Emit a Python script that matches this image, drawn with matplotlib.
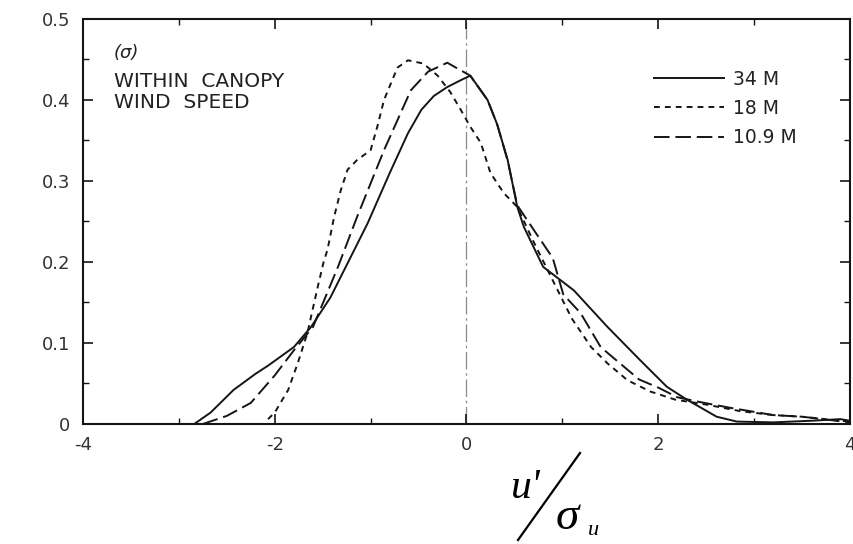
import matplotlib.pyplot as plt
from matplotlib.lines import Line2D
from matplotlib.ticker import MultipleLocator

plt.rcParams['axes.unicode_minus'] = False

# 34 M height (solid)
x_34 = [-2.84, -2.67, -2.43, -2.2, -2.07, -1.8, -1.62, -1.42, -1.03, -0.8, -0.61, -0.47,
        -0.34, -0.2, -0.05, 0.04, 0.22, 0.32, 0.43, 0.53, 0.6, 0.8, 1.12, 1.47, 1.81, 2.09,
        2.3, 2.61, 2.82, 3.2, 3.6, 3.9, 4.0]
y_34 = [0.0, 0.014, 0.042, 0.062, 0.072, 0.095, 0.12, 0.156, 0.248, 0.31, 0.359, 0.388,
        0.405, 0.416, 0.425, 0.43, 0.40, 0.37, 0.326, 0.268, 0.243, 0.194, 0.165, 0.12,
        0.079, 0.046, 0.03, 0.009, 0.003, 0.002, 0.004, 0.006, 0.004]

# 18 M height (short dashes)
x_18 = [-2.07, -2.0, -1.86, -1.76, -1.66, -1.55, -1.49, -1.45, -1.38, -1.31, -1.24, -1.14,
        -1.0, -0.93, -0.86, -0.72, -0.61, -0.45, -0.3, -0.17, -0.06, 0.04, 0.15, 0.25, 0.39,
        0.53, 0.7, 0.91, 1.1, 1.3, 1.47, 1.68, 1.92, 2.18, 2.5, 2.85, 3.2, 3.5, 3.9, 4.0]
y_18 = [0.006, 0.014, 0.042, 0.075, 0.112, 0.17, 0.2, 0.215, 0.256, 0.289, 0.314, 0.326,
        0.338, 0.367, 0.40, 0.44, 0.449, 0.445, 0.43, 0.41, 0.388, 0.367, 0.347, 0.31, 0.285,
        0.268, 0.225, 0.175, 0.13, 0.095, 0.075, 0.054, 0.04, 0.03, 0.024, 0.016, 0.011, 0.009,
        0.004, 0.003]

# 10.9 M height (long dashes)
x_109 = [-2.75, -2.5, -2.25, -2.0, -1.8, -1.6, -1.34, -1.14, -0.86, -0.58, -0.4, -0.2,
         0.04, 0.22, 0.32, 0.43, 0.53, 0.7, 0.9, 1.01, 1.19, 1.4, 1.6, 1.8, 2.0, 2.2,
         2.44, 2.75, 3.2, 3.5, 3.93, 4.0]
y_109 = [0.0, 0.01, 0.026, 0.06, 0.091, 0.12, 0.194, 0.256, 0.338, 0.412, 0.435, 0.446,
         0.43, 0.40, 0.37, 0.325, 0.27, 0.24, 0.205, 0.16, 0.137, 0.095, 0.075, 0.055, 0.045,
         0.033, 0.027, 0.02, 0.011, 0.009, 0.003, 0.002]

labels = ['34 M', '18 M', '10.9 M']
x_ticks = [-4, -2, 0, 2, 4]
y_ticks = [0, 0.1, 0.2, 0.3, 0.4, 0.5]
y_tick_labels = ['0', '0.1', '0.2', '0.3', '0.4', '0.5']

fig = plt.figure(figsize=(8.54, 5.44), dpi=100)
ax = fig.add_axes([0.0972, 0.2206, 0.898, 0.7445])

ink = '#151515'
ax.axvline(0, color='#8a8a8a', lw=0.9, linestyle=(0, (14, 3, 2, 3)), zorder=1)
ax.plot(x_34, y_34, color=ink, lw=1.4, label=labels[0])
ax.plot(x_18, y_18, color=ink, lw=1.4, linestyle=(0, (3, 2.6)), label=labels[1])
ax.plot(x_109, y_109, color=ink, lw=1.4, linestyle=(0, (8, 3)), label=labels[2])

ax.set_xlim(-4, 4)
ax.set_ylim(0, 0.5)
ax.set_xticks(x_ticks)
ax.set_yticks(y_ticks)
ax.set_yticklabels(y_tick_labels)
ax.xaxis.set_minor_locator(MultipleLocator(1))
ax.yaxis.set_minor_locator(MultipleLocator(0.05))
ax.tick_params(which='both', direction='in', top=True, right=True, colors=ink,
               labelsize=13, labelcolor='#333333')
ax.tick_params(which='major', length=7, width=1.2, pad=9)
ax.tick_params(which='minor', length=4, width=1.0)
for s in ax.spines.values():
    s.set_linewidth(1.5)
    s.set_color(ink)

# panel annotation
ax.text(0.04, 0.915, '(σ)', transform=ax.transAxes, fontsize=13, style='italic',
        color='#222222', va='center')
ax.text(0.04, 0.845, 'WITHIN  CANOPY', transform=ax.transAxes, fontsize=14.5,
        color='#222222', va='center')
ax.text(0.04, 0.793, 'WIND  SPEED', transform=ax.transAxes, fontsize=14.5,
        color='#222222', va='center')

leg = ax.legend(loc='upper left', bbox_to_anchor=(0.745, 0.875), frameon=False,
                fontsize=13.5, handlelength=3.7, handletextpad=0.5, labelspacing=0.55,
                borderpad=0, borderaxespad=0)
for t in leg.get_texts():
    t.set_color('#222222')

# x label u'/sigma_u drawn as a slashed fraction
fig.text(0.598, 0.104, "u'", fontsize=30, family='Liberation Serif', style='italic',
         ha='left', va='center')
fig.text(0.650, 0.048, 'σ', fontsize=34, family='Liberation Serif', style='italic',
         ha='left', va='center')
fig.text(0.688, 0.024, 'u', fontsize=16, family='Liberation Serif', style='italic',
         ha='left', va='center')
fig.add_artist(Line2D([518 / 854, 580 / 854], [1 - 540 / 544, 1 - 453 / 544],
                      transform=fig.transFigure, color='black', lw=1.6))

fig.savefig('out.png', dpi=100)
